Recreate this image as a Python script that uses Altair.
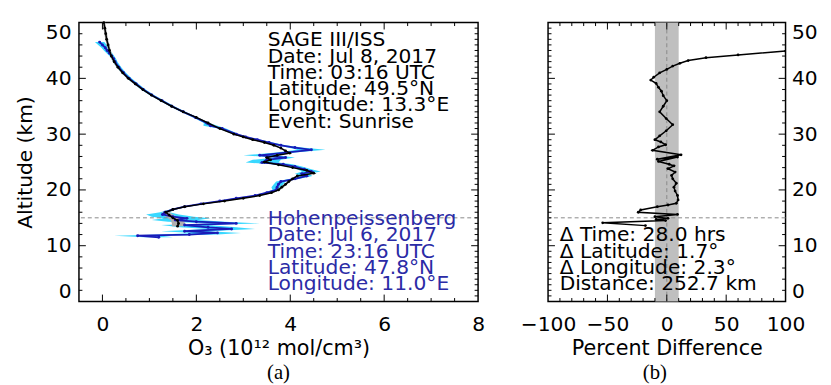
import altair as alt
import pandas as pd

# ---------------- data ----------------
# SAGE III/ISS ozone profile (black)
sage_alt = [50, 49, 48, 47, 46, 45, 44, 43, 42, 41, 40, 39, 38, 37, 36, 35, 34, 33, 32, 31, 30,
            29.5, 29, 28.5, 28, 27.5, 27, 26.6, 26.2, 25.8, 25.4, 25.0, 24.5, 24.0, 23.5, 23.0,
            22.5, 22.0, 21.5, 21.0, 20.5, 20.0, 19.5, 19.0, 18.5, 18.0, 17.5, 17.0,
            16.5, 16.0, 15.5, 15.0, 14.5, 14.0, 13.5]
sage_o3 = [0.03, 0.05, 0.07, 0.09, 0.12, 0.15, 0.19, 0.25, 0.33, 0.43, 0.55, 0.70, 0.86, 1.04, 1.25,
           1.47, 1.72, 2.0, 2.25, 2.5, 2.8,
           3.0, 3.2, 3.45, 3.65, 3.8, 3.9, 3.99, 3.72, 3.5, 3.58, 3.45, 3.75, 4.05, 4.35, 4.5,
           4.15, 4.05, 3.97, 3.9, 3.82, 3.75, 3.6, 3.35, 3.0, 2.6, 2.15, 1.75,
           1.5, 1.35, 1.42, 1.5, 1.6, 1.62, 1.6]
sage_err = [0.03, 0.03, 0.03, 0.03, 0.03, 0.03, 0.03, 0.03, 0.03, 0.03, 0.03, 0.03, 0.03, 0.03, 0.03,
            0.03, 0.03, 0.03, 0.03, 0.03, 0.03,
            0.03, 0.03, 0.03, 0.03, 0.03, 0.03, 0.04, 0.04, 0.04, 0.04, 0.04, 0.04, 0.04, 0.04, 0.04,
            0.04, 0.04, 0.04, 0.04, 0.04, 0.04, 0.04, 0.04, 0.04, 0.04, 0.04, 0.05,
            0.06, 0.08, 0.10, 0.12, 0.14, 0.14, 0.12]

# Hohenpeissenberg ozonesonde profile (blue) and its uncertainty (cyan)
sonde_alt = [46.5, 46, 45.5, 45, 44.5, 44, 43.5, 43, 42, 41, 40, 39, 38, 37, 36, 35, 34, 33,
             32, 31.5, 31, 30, 29.5, 29, 28.5, 28, 27.6, 27.2, 26.7, 26.2, 25.8, 25.4, 24.9, 24.6,
             24.2, 23.7, 23.3, 22.9, 22.5, 22.0, 21.5, 21.0, 20.5, 20.0, 19.5, 19.0, 18.5, 18.0,
             17.5, 17.0, 16.5, 16.0, 15.6, 15.2, 14.9, 14.6, 14.3, 14.0, 13.7, 13.3, 13.0, 12.6,
             12.3, 12.0, 11.8, 11.5]
sonde_o3 = [-0.06, 0.0, 0.06, 0.1, 0.15, 0.2, 0.24, 0.27, 0.35, 0.45, 0.57, 0.72, 0.87, 1.05, 1.27,
            1.48, 1.72, 1.98,
            2.22, 2.3, 2.55, 2.85, 3.05, 3.3, 3.55, 3.8, 4.1, 4.45, 3.9, 3.35, 3.9, 3.5, 3.4, 3.85,
            4.1, 4.3, 4.45, 4.25, 4.35, 4.1, 3.8, 3.75, 3.72, 3.7, 3.5, 3.25, 2.85, 2.5,
            2.1, 1.75, 1.5, 1.33, 1.28, 1.5, 1.8, 1.55, 2.0, 2.85, 1.75, 2.25, 2.75, 1.75,
            2.45, 1.85, 0.75, 1.2]
sonde_err = [0.1, 0.09, 0.08, 0.07, 0.06, 0.05, 0.05, 0.05, 0.05, 0.05, 0.05, 0.05, 0.05, 0.05, 0.05,
             0.05, 0.05, 0.05,
             0.06, 0.15, 0.08, 0.06, 0.06, 0.07, 0.08, 0.1, 0.15, 0.3, 0.2, 0.35, 0.2, 0.3, 0.35, 0.2,
             0.15, 0.15, 0.2, 0.15, 0.12, 0.1, 0.1, 0.1, 0.12, 0.08, 0.06, 0.05, 0.05, 0.05,
             0.05, 0.05, 0.06, 0.1, 0.35, 0.45, 0.5, 0.5, 0.6, 0.5, 0.5, 0.6, 0.5, 0.5,
             0.5, 0.6, 0.5, 0.3]

# Percent difference profile (panel b)
diff_alt = [44.9, 44.2, 43.7, 43.2, 42.7, 42.2, 41.6, 41.0, 40.2, 39.7, 39.1, 38.4, 37.7, 36.9, 36.0,
            35.0, 34.0, 32.8, 31.7, 30.6, 29.7, 29.0, 28.6, 28.1, 27.7, 27.1, 26.3, 25.5, 25.9, 25.1,
            24.6, 24.3, 23.8, 23.2, 22.6, 22.0, 21.2, 20.5, 19.8, 19.0, 18.2, 17.6, 17.3, 17.0,
            16.4, 16.0, 15.6, 15.2, 14.9, 14.7, 14.5, 14.1, 13.6]
diff_pct = [100, 60, 33, 18, 11, 5, 0, -6, -11, -13.5, -9, -7, -4.5, -3, 0,
            -3, -6, -0.5, 5, -0.5, -6, -10, -5, -1, -7, -12, 12, -8, 9, -7,
            2, 6, 1, 7, 4, 5, 8, 6, 7, 9, 9.5, 8, 1, -8,
            -22, -24, 9, -10, 1, -9, -1, -54, -18]

band_lo = [-10]
band_hi = [10]
ref_alt = [15]
zero_pct = [0]

# tick values
o3_major = [0, 2, 4, 6, 8]
o3_inner_major = [0, 2, 4, 6]
o3_minor = [0.5, 1, 1.5, 2.5, 3, 3.5, 4.5, 5, 5.5, 6.5, 7, 7.5]
alt_labels = [0, 10, 20, 30, 40, 50]
alt_major = [10, 20, 30, 40]
alt_minor2 = [2, 4, 6, 8, 12, 14, 16, 18, 22, 24, 26, 28, 32, 34, 36, 38, 42, 44, 46, 48]
alt_minor1 = [1, 2, 3, 4, 5, 6, 7, 8, 9, 11, 12, 13, 14, 15, 16, 17, 18, 19, 21, 22, 23, 24, 25,
              26, 27, 28, 29, 31, 32, 33, 34, 35, 36, 37, 38, 39, 41, 42, 43, 44, 45, 46, 47, 48, 49]
pct_labels = [-100, -50, 0, 50, 100]
pct_major = [-50, 0, 50]
pct_minor = [-90, -80, -70, -60, -40, -30, -20, -10, 10, 20, 30, 40, 60, 70, 80, 90]

sage_lines = ["SAGE III/ISS", "Date: Jul 8, 2017", "Time: 03:16 UTC", "Latitude: 49.5°N",
              "Longitude: 13.3°E", "Event: Sunrise"]
sonde_lines = ["Hohenpeissenberg", "Date: Jul 6, 2017", "Time: 23:16 UTC", "Latitude: 47.8°N",
               "Longitude: 11.0°E"]
diff_lines = ["Δ Time:  28.0 hrs", "Δ Latitude:  1.7°", "Δ Longitude: 2.3°", "Distance: 252.7 km"]

# ---------------- frames ----------------
sage_df = pd.DataFrame({"alt": sage_alt, "o3": sage_o3, "err": sage_err})
sage_df["idx"] = range(len(sage_df))
sage_df["lo"] = sage_df.o3 - sage_df.err
sage_df["hi"] = sage_df.o3 + sage_df.err
sonde_df = pd.DataFrame({"alt": sonde_alt, "o3": sonde_o3, "err": sonde_err})
sonde_df["idx"] = range(len(sonde_df))
sonde_df["lo"] = sonde_df.o3 - sonde_df.err
sonde_df["hi"] = sonde_df.o3 + sonde_df.err
diff_df = pd.DataFrame({"alt": diff_alt, "pct": diff_pct})
diff_df["idx"] = range(len(diff_df))
one = pd.DataFrame({"k": [0]})

W1, W2, H = 405, 241, 283
FONT = "DejaVu Sans"
BLUE = "#1a1ab8"
CYAN = "#22d4ff"
TXTBLUE = "#2b2ba6"
ANN = 20.5

xs1 = alt.Scale(domain=[-0.5, 8], nice=False, zero=False)
xs2 = alt.Scale(domain=[-100, 100], nice=False, zero=False)
ys = alt.Scale(domain=[0, 50], nice=False, zero=False)

# one axis definition per channel, reused by every layer of a panel
ax_o3 = alt.Axis(values=o3_major, labelFlush=False, labelPadding=13,
                 title="O₃ (10¹² mol/cm³)", titleFontSize=21, titlePadding=3, labelFontSize=20.5)
ax_alt_a = alt.Axis(values=alt_labels, labelFlush=True, labelPadding=8, title="Altitude (km)",
                    titleFontSize=20.5, titlePadding=10, labelFontSize=20.5)
ax_pct = alt.Axis(values=pct_labels, labelFlush=False, labelPadding=13, title="Percent Difference",
                  titleFontSize=21, titlePadding=3, labelFontSize=20.5)
ax_alt_b = alt.Axis(orient="right", values=alt_labels, labelFlush=True, labelPadding=6,
                    title="", labelFontSize=20.5)


def ticks(vals, ch, xscale, xaxis, yaxis, side, length, W):
    df = pd.DataFrame({"v": vals})
    base = alt.Chart(df).mark_rule(color="black", strokeWidth=1)
    if ch == "x":
        enc = dict(x=alt.X("v:Q", scale=xscale, axis=xaxis))
        if side == "bottom":
            enc.update(y=alt.value(H), y2=alt.value(H - length))
        else:
            enc.update(y=alt.value(0), y2=alt.value(length))
    else:
        enc = dict(y=alt.Y("v:Q", scale=ys, axis=yaxis))
        if side == "left":
            enc.update(x=alt.value(0), x2=alt.value(length))
        else:
            enc.update(x=alt.value(W), x2=alt.value(W - length))
    return base.encode(**enc)


def XA(f):
    return alt.X(f, scale=xs1, axis=ax_o3)


def YA(f):
    return alt.Y(f, scale=ys, axis=ax_alt_a)


def XB(f):
    return alt.X(f, scale=xs2, axis=ax_pct)


def YB(f):
    return alt.Y(f, scale=ys, axis=ax_alt_b)


# ---------------- panel (a) ----------------
cyan = alt.Chart(sonde_df).mark_area(orient="horizontal", color=CYAN, opacity=0.9).encode(
    y=YA("alt:Q"), x=XA("lo:Q"), x2="hi:Q")
grey_a = alt.Chart(sage_df).mark_area(orient="horizontal", color="#b0b0b0").encode(
    y=YA("alt:Q"), x=XA("lo:Q"), x2="hi:Q")
ref_a = alt.Chart(pd.DataFrame({"alt": ref_alt})).mark_rule(
    color="#888888", strokeDash=[4, 3], strokeWidth=1).encode(y=YA("alt:Q"))
sonde_line = alt.Chart(sonde_df).mark_line(
    color=BLUE, strokeWidth=1.8,
    point=alt.OverlayMarkDef(color=BLUE, size=9, filled=True)).encode(
    x=XA("o3:Q"), y=YA("alt:Q"), order="idx:Q")
sage_line = alt.Chart(sage_df).mark_line(
    color="black", strokeWidth=1.5,
    point=alt.OverlayMarkDef(color="black", size=8, filled=True)).encode(
    x=XA("o3:Q"), y=YA("alt:Q"), order="idx:Q")
txt_sage = alt.Chart(one).mark_text(
    text=sage_lines, align="left", baseline="alphabetic", font=FONT, fontSize=ANN,
    lineHeight=16.5, color="black").encode(
    x=alt.XDatum(3.52, scale=xs1, axis=ax_o3), y=alt.YDatum(45.76, scale=ys, axis=ax_alt_a))
txt_sonde = alt.Chart(one).mark_text(
    text=sonde_lines, align="left", baseline="alphabetic", font=FONT, fontSize=ANN,
    lineHeight=16.4, color=TXTBLUE).encode(
    x=alt.XDatum(3.52, scale=xs1, axis=ax_o3), y=alt.YDatum(13.66, scale=ys, axis=ax_alt_a))
lab_a = alt.Chart(one).mark_text(
    text="(a)", font="Liberation Serif", fontSize=21, align="center", baseline="alphabetic",
    color="black").encode(x=alt.XDatum(3.75, scale=xs1, axis=ax_o3), y=alt.value(362))

panel_a = alt.layer(
    cyan, grey_a, ref_a, sonde_line, sage_line, txt_sage, txt_sonde, lab_a,
    ticks(o3_inner_major, "x", xs1, ax_o3, ax_alt_a, "bottom", 7, W1),
    ticks(o3_minor, "x", xs1, ax_o3, ax_alt_a, "bottom", 3.5, W1),
    ticks(o3_inner_major, "x", xs1, ax_o3, ax_alt_a, "top", 7, W1),
    ticks(o3_minor, "x", xs1, ax_o3, ax_alt_a, "top", 3.5, W1),
    ticks(alt_major, "y", xs1, ax_o3, ax_alt_a, "left", 7, W1),
    ticks(alt_minor2, "y", xs1, ax_o3, ax_alt_a, "left", 3.5, W1),
    ticks(alt_major, "y", xs1, ax_o3, ax_alt_a, "right", 7, W1),
    ticks(alt_minor1, "y", xs1, ax_o3, ax_alt_a, "right", 3.5, W1),
).properties(width=W1, height=H)

# ---------------- panel (b) ----------------
band = alt.Chart(pd.DataFrame({"lo": band_lo, "hi": band_hi})).mark_rect(color="#bfbfbf").encode(
    x=XB("lo:Q"), x2="hi:Q", y=alt.value(0), y2=alt.value(H))
zero_b = alt.Chart(pd.DataFrame({"v": zero_pct})).mark_rule(
    color="#888888", strokeDash=[4, 3], strokeWidth=1).encode(x=XB("v:Q"))
ref_b = alt.Chart(pd.DataFrame({"alt": ref_alt})).mark_rule(
    color="#888888", strokeDash=[4, 3], strokeWidth=1).encode(y=YB("alt:Q"))
diff_line = alt.Chart(diff_df).mark_line(
    color="black", strokeWidth=1.5, clip=True,
    point=alt.OverlayMarkDef(color="black", size=8, filled=True)).encode(
    x=XB("pct:Q"), y=YB("alt:Q"), order="idx:Q")
txt_diff = alt.Chart(one).mark_text(
    text=diff_lines, align="left", baseline="alphabetic", font=FONT, fontSize=ANN,
    lineHeight=16.6, color="black").encode(
    x=alt.XDatum(-90.2, scale=xs2, axis=ax_pct), y=alt.YDatum(10.78, scale=ys, axis=ax_alt_b))
lab_b = alt.Chart(one).mark_text(
    text="(b)", font="Liberation Serif", fontSize=21, align="center", baseline="alphabetic",
    color="black").encode(x=alt.XDatum(-10, scale=xs2, axis=ax_pct), y=alt.value(362))

panel_b = alt.layer(
    band, zero_b, ref_b, diff_line, txt_diff, lab_b,
    ticks(pct_major, "x", xs2, ax_pct, ax_alt_b, "bottom", 7, W2),
    ticks(pct_minor, "x", xs2, ax_pct, ax_alt_b, "bottom", 3.5, W2),
    ticks(pct_major, "x", xs2, ax_pct, ax_alt_b, "top", 7, W2),
    ticks(pct_minor, "x", xs2, ax_pct, ax_alt_b, "top", 3.5, W2),
    ticks(alt_major, "y", xs2, ax_pct, ax_alt_b, "left", 7, W2),
    ticks(alt_minor1, "y", xs2, ax_pct, ax_alt_b, "left", 3.5, W2),
    ticks(alt_major, "y", xs2, ax_pct, ax_alt_b, "right", 7, W2),
    ticks(alt_minor2, "y", xs2, ax_pct, ax_alt_b, "right", 3.5, W2),
).properties(width=W2, height=H)

chart = alt.hconcat(panel_a, panel_b, spacing=71, bounds="flush").properties(
    padding={"left": 7, "top": 8, "right": 5, "bottom": 2}, background="white"
).configure_view(stroke="black", strokeWidth=1.5).configure_axis(
    labelFont=FONT, titleFont=FONT, labelColor="black", titleColor="black",
    titleFontWeight="normal", grid=False, ticks=False, domain=False)

chart.save("out.html", embed_options={"renderer": "svg", "actions": False})
